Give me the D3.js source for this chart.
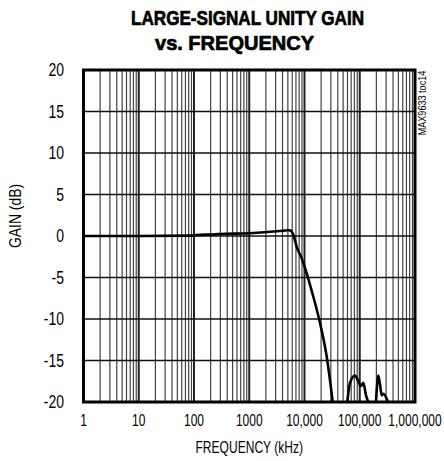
<!DOCTYPE html>
<meta charset="utf-8">
<script src="https://d3js.org/d3.v7.min.js"></script>
<style>
    body { margin: 0; background: #fff; }
    text { font-family: "Liberation Sans", Arial, sans-serif; fill: #000; }
    .title { font-weight: bold; font-size: 21px; stroke: #000; stroke-width: 0.7px; }
</style>
<div id="my_dataviz"></div>
<script>
    // ---- data ----
    var freqKHz = [1, 10, 90, 110, 250, 300, 1000, 3600, 5000, 5600, 6270, 7220, 8900, 10960, 13100, 18500, 25200, 32400,
                   null,
                   59500, 66600, 82000, 94200, 104000, 116000, 129700, 142800,
                   null,
                   196800, 216700, 232600, 249500, 266800, 307400, 324500];
    var gainDB = [0, 0, 0.05, 0.12, 0.2, 0.25, 0.33, 0.6, 0.7, 0.65, 0.15, -1.3, -2.7, -4.5, -6.3, -10.1, -14.5, -20,
                  null,
                  -20, -17.7, -16.8, -17.5, -18.1, -17.7, -19.2, -20,
                  null,
                  -20, -16.8, -17.9, -19.2, -19.0, -19.6, -20];
    var yTicks = [20, 15, 10, 5, 0, -5, -10, -15, -20];
    var xTicks = [1, 10, 100, 1000, 10000, 100000, 1000000];
    var xTickLabels = ["1", "10", "100", "1000", "10,000", "100,000", "1,000,000"];

    var margin = { top: 70, right: 29, bottom: 59, left: 83.5 },
        width = 444 - margin.left - margin.right,
        height = 461 - margin.top - margin.bottom;

    var root = d3.select("#my_dataviz")
        .append("svg")
        .attr("width", 444)
        .attr("height", 461);

    // narrow text: the reference uses a condensed face, so squeeze horizontally
    function addText(parent, x, y, str, size, sx, anchor, rot) {
        var t = parent.append("text")
            .attr("transform", "translate(" + x + "," + y + ")" + (rot ? " rotate(" + rot + ")" : "") + " scale(" + sx + ",1)")
            .attr("text-anchor", anchor || "middle")
            .style("font-size", size + "px")
            .text(str);
        return t;
    }

    // title
    root.append("text")
        .attr("class", "title")
        .attr("x", 131).attr("y", 25)
        .attr("textLength", 233).attr("lengthAdjust", "spacingAndGlyphs")
        .text("LARGE-SIGNAL UNITY GAIN");
    root.append("text")
        .attr("class", "title")
        .attr("x", 155).attr("y", 50)
        .attr("textLength", 159).attr("lengthAdjust", "spacingAndGlyphs")
        .text("vs. FREQUENCY");

    var svg = root.append("g")
        .attr("transform", "translate(" + margin.left + "," + margin.top + ")");

    var x = d3.scaleLog().domain([1, 1000000]).range([0, width]);
    var y = d3.scaleLinear().domain([-20, 20]).range([height, 0]);

    // vertical grid: 1..9 in each decade
    var minor = [];
    for (var e = 0; e < 6; e++) {
        for (var m = 1; m < 10; m++) minor.push(m * Math.pow(10, e));
    }
    minor.push(1000000);
    svg.append("g").selectAll("line")
        .data(minor)
        .enter().append("line")
        .attr("x1", function (d) { return x(d); })
        .attr("x2", function (d) { return x(d); })
        .attr("y1", 0).attr("y2", height)
        .attr("stroke", function (d) { return xTicks.indexOf(d) >= 0 ? "#222" : "#444"; })
        .attr("stroke-width", function (d) { return xTicks.indexOf(d) >= 0 ? 2 : 1.2; });

    // horizontal grid
    svg.append("g").selectAll("line")
        .data(yTicks)
        .enter().append("line")
        .attr("x1", 0).attr("x2", width)
        .attr("y1", function (d) { return y(d); })
        .attr("y2", function (d) { return y(d); })
        .attr("stroke", "#111")
        .attr("stroke-width", 1.3);

    // frame
    svg.append("rect")
        .attr("x", 0).attr("y", 0)
        .attr("width", width).attr("height", height)
        .attr("fill", "none")
        .attr("stroke", "#000")
        .attr("stroke-width", 3);

    // y tick labels
    yTicks.forEach(function (d) {
        addText(svg, -19.5, y(d) + 6, d, 17.5, 0.8, "end");
    });

    // x tick labels
    xTicks.forEach(function (d, i) {
        addText(svg, x(d), height + 24, xTickLabels[i], 16, 0.75, "middle");
    });

    // axis titles
    addText(svg, width / 2, height + 51, "FREQUENCY (kHz)", 16.5, 0.73, "middle");
    addText(svg, -63, 146, "GAIN (dB)", 17, 0.82, "middle", -90);
    addText(svg, width + 11, 33, "MAX9633 toc14", 11.5, 0.79, "middle", -90);

    // curve
    var pts = freqKHz.map(function (f, i) { return { f: f, g: gainDB[i] }; });
    var line = d3.line()
        .defined(function (d) { return d.f !== null; })
        .x(function (d) { return x(d.f); })
        .y(function (d) { return y(d.g); })
        .curve(d3.curveMonotoneX);

    svg.append("path")
        .datum(pts)
        .attr("d", line)
        .attr("fill", "none")
        .attr("stroke", "#000")
        .attr("stroke-width", 2.6)
        .attr("stroke-linejoin", "round");
</script>
